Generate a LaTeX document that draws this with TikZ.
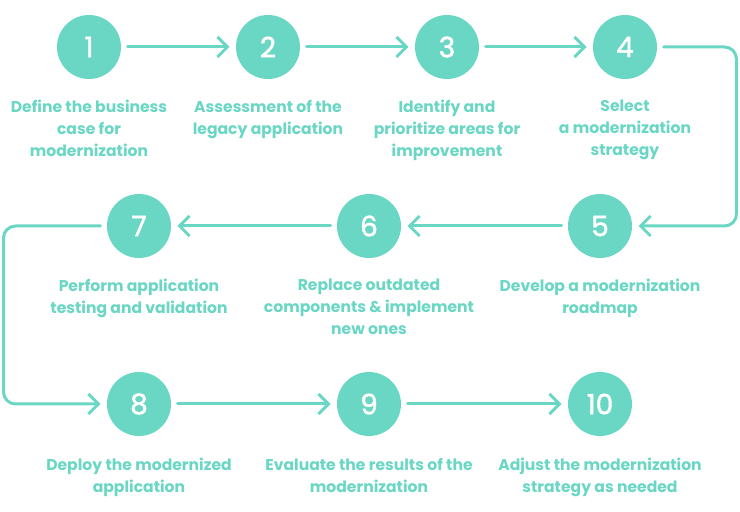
\documentclass[tikz,border=0pt]{standalone}
\usepackage{fontspec}
\setmainfont{Poppins}
\newfontfamily\numfont[FakeBold=1.6]{Poppins}
\usetikzlibrary{arrows.meta,positioning}
\definecolor{mint}{HTML}{6AD6C4}

\begin{document}
\begin{tikzpicture}[x=1pt,y=1pt,
  stage/.style={circle,fill=mint,minimum size=64pt,inner sep=0pt,outer sep=6.5pt,
    text=white,font=\numfont\fontsize{28}{28}\selectfont},
  stagetext/.style={text=mint,align=center,inner sep=0pt,
    font=\bfseries\fontsize{15.6}{22}\selectfont},
  flow/.style={draw=mint,line width=3pt,line cap=round,line join=round,
    -{Straight Barb[length=10pt,width=20pt]}}]
  \useasboundingbox (0,0) rectangle (740,512);

  % First row: steps 1 to 4
  \node[stage] (c1) at (89,465) {1};
  \node[stage] (c2) at (268,465) {2};
  \node[stage] (c3) at (447,465) {3};
  \node[stage] (c4) at (625,465) {4};
  \node[stagetext,below=14.5pt of c1] (t1) {Define the business\\case for\\modernization};
  \node[stagetext,below=14.5pt of c2] (t2) {Assessment of the\\legacy application};
  \node[stagetext,below=14.5pt of c3] (t3) {Identify and\\prioritize areas for\\improvement};
  \node[stagetext,below=14.5pt of c4] (t4) {Select\\a modernization\\strategy};

  % Second row: steps 5 to 7, right to left
  \node[stage] (c5) at (600,286) {5};
  \node[stage] (c6) at (369,286) {6};
  \node[stage] (c7) at (139,286) {7};
  \node[stagetext,below=14.5pt of c5] (t5) {Develop a modernization\\roadmap};
  \node[stagetext,below=14.5pt of c6] (t6) {Replace outdated\\components \& implement\\new ones};
  \node[stagetext,below=14.5pt of c7] (t7) {Perform application\\testing and validation};

  % Third row: steps 8 to 10
  \node[stage] (c8) at (139,108) {8};
  \node[stage] (c9) at (369,108) {9};
  \node[stage] (c10) at (600,108) {10};
  \node[stagetext,below=15.5pt of c8] (t8) {Deploy the modernized\\application};
  \node[stagetext,below=15.5pt of c9] (t9) {Evaluate the results of the\\modernization};
  \node[stagetext,below=15.5pt of c10] (t10) {Adjust the modernization\\strategy as needed};

  % Connectors
  \draw[flow] (c1) -- (c2);
  \draw[flow] (c2) -- (c3);
  \draw[flow] (c3) -- (c4);
  \draw[flow,rounded corners=12pt] (c4.east) -- ++(73,0) |- (c5.east);
  \draw[flow] (c5) -- (c6);
  \draw[flow] (c6) -- (c7);
  \draw[flow,rounded corners=12pt] (c7.west) -- ++(-97,0) |- (c8.west);
  \draw[flow] (c8) -- (c9);
  \draw[flow] (c9) -- (c10);
\end{tikzpicture}
\end{document}
